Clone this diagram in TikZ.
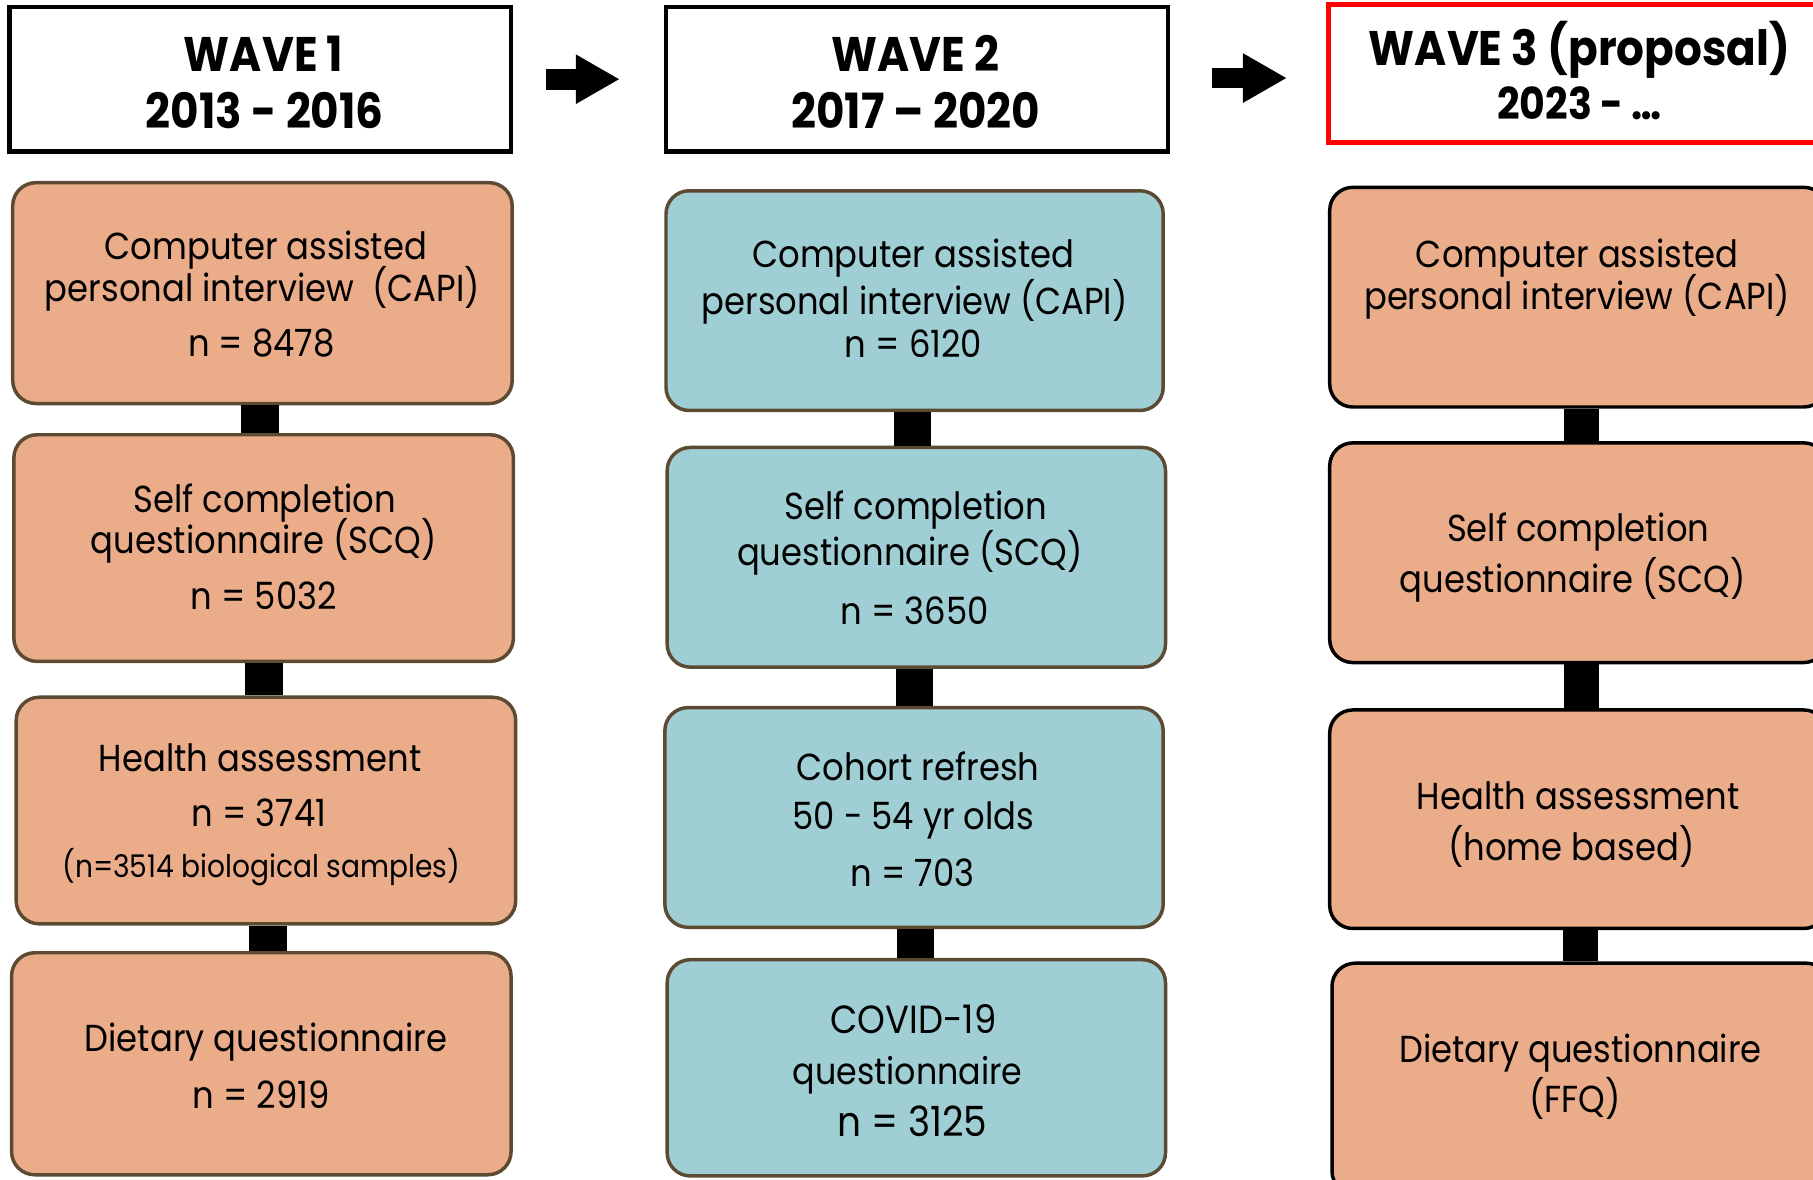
\documentclass[tikz,border=0pt]{standalone}
\usepackage{fontspec}
\setmainfont{Poppins}[FakeStretch=0.9]
\usetikzlibrary{arrows.meta}
\definecolor{orng}{HTML}{EBAC8A}
\definecolor{tealf}{HTML}{9FCFD4}
\definecolor{brn}{HTML}{5C4A32}
\definecolor{redb}{HTML}{FF0000}
\newcommand\bodyf{\fontsize{32.5}{39}\selectfont}
\newcommand\headf{\fontsize{42}{50}\bfseries\selectfont}
\begin{document}
\begin{tikzpicture}[x=1pt,y=-1pt,
  boxbase/.style={rectangle, rounded corners=20pt, line width=3pt, inner sep=0pt},
  obox/.style={boxbase, fill=orng, draw=brn},
  tbox/.style={boxbase, fill=tealf, draw=brn},
  pbox/.style={boxbase, fill=orng, draw=black},
  headbox/.style={rectangle, draw=black, fill=white, line width=4pt, minimum width=434pt, minimum height=125pt, inner sep=0pt},
  conn/.style={draw=black, line width=33pt},
  bigarrow/.style={draw=black, line width=18pt, -{Triangle[length=38pt, width=40pt]}},
  bt/.style={font=\bodyf, anchor=base, inner sep=0pt},
  ht/.style={font=\headf, anchor=base, inner sep=0pt}
]
\path[use as bounding box, clip] (0,0) rectangle (1568,1020);

% headers
\node[headbox] (h1) at (225,68.5) {};
\node[headbox] (h2) at (793,68.5) {};
\node[headbox, draw=redb, minimum height=119pt] (h3) at (1366,63.5) {};
\node[ht] (h1a) at (228,62) {WAVE\ 1};
\node[ht] (h1b) at (229,111) {2013 - 2016};
\node[ht] (h2a) at (792,62) {WAVE\ 2};
\node[ht] (h2b) at (792,111) {2017 – 2020};
\node[ht] (h3a) at (1366,57) {WAVE 3 (proposal)};
\node[ht, font=\fontsize{38}{44}\bfseries\selectfont] (h3b) at (1366,103) {2023 - …};
\draw[bigarrow] ([xshift=28pt]h1.east) -- ([xshift=-38pt]h2.west);
\draw[bigarrow] ([xshift=36pt,yshift=1pt]h2.east) -- ([xshift=-34pt,yshift=-4pt]h3.west);

% column 1
\node[obox, minimum width=432pt, minimum height=191pt] (a1) at (227,253.5) {};
\node[obox, minimum width=432pt, minimum height=196pt] (a2) at (228,474) {};
\node[obox, minimum width=432pt, minimum height=196pt] (a3) at (230,701) {};
\node[obox, minimum width=432pt, minimum height=192pt] (a4) at (226,920) {};
\draw[conn] ([xshift=-2pt]a1.south) -- ([xshift=-2pt]a1.south |- a2.north);
\draw[conn] (a2.south) -- (a2.south |- a3.north);
\draw[conn] ([xshift=2pt]a3.south) -- ([xshift=2pt]a3.south |- a4.north);
\node[bt] (a1l1) at (230,224) {Computer assisted};
\node[bt] (a1l2) at (227,261) {personal interview\ \ (CAPI)};
\node[bt] (a1l3) at (226,308) {n = 8478};
\node[bt] (a2l1) at (229,443) {Self completion};
\node[bt] (a2l2) at (228,479) {questionnaire (SCQ)};
\node[bt] (a2l3) at (228,527) {n = 5032};
\node[bt] (a3l1) at (225,667) {Health assessment};
\node[bt] (a3l2) at (224,715) {n = 3741};
\node[bt, font=\fontsize{27}{32}\selectfont] (a3l3) at (226,759) {(n=3514 biological samples)};
\node[bt] (a4l1) at (230,909) {Dietary questionnaire};
\node[bt] (a4l2) at (226,959) {n = 2919};

% column 2
\node[tbox, minimum width=430pt, minimum height=190pt] (b1) at (791,260) {};
\node[tbox, minimum width=431pt, minimum height=190pt] (b2) at (792.5,482) {};
\node[tbox, minimum width=431pt, minimum height=190pt] (b3) at (790.5,707) {};
\node[tbox, minimum width=431pt, minimum height=187pt] (b4) at (792.5,923.5) {};
\draw[conn, line width=32pt] ([xshift=-2pt]b1.south) -- ([xshift=-2pt]b1.south |- b2.north);
\draw[conn, line width=32pt] ([xshift=-2pt]b2.south) -- ([xshift=-2pt]b2.south |- b3.north);
\draw[conn, line width=32pt] ([xshift=1pt]b3.south) -- ([xshift=1pt]b3.south |- b4.north);
\node[bt] (b1l1) at (790,231) {Computer assisted};
\node[bt] (b1l2) at (791,272) {personal interview (CAPI)};
\node[bt] (b1l3) at (790,309) {n = 6120};
\node[bt] (b2l1) at (792,449) {Self completion};
\node[bt] (b2l2) at (787,489) {questionnaire (SCQ)};
\node[bt] (b2l3) at (791,540) {n = 3650};
\node[bt] (b3l1) at (794,675) {Cohort refresh};
\node[bt] (b3l2) at (790,717) {50 - 54 yr olds};
\node[bt] (b3l3) at (789,767) {n = 703};
\node[bt, font=\fontsize{34}{40}\selectfont] (b4l1) at (790,894) {COVID-19};
\node[bt, font=\fontsize{32}{38}\selectfont] (b4l2) at (785,938) {questionnaire};
\node[bt, font=\fontsize{36}{42}\selectfont] (b4l3) at (789,983) {n = 3125};

% column 3
\node[pbox, minimum width=430pt, minimum height=190pt] (c1) at (1365,257) {};
\node[pbox, minimum width=430pt, minimum height=190pt] (c2) at (1365,478) {};
\node[pbox, minimum width=430pt, minimum height=189pt] (c3) at (1365,708.5) {};
\node[pbox, minimum width=430pt, minimum height=200pt] (c4) at (1367,933) {};
\draw[conn, line width=30pt] ([xshift=3pt]c1.south) -- ([xshift=3pt]c1.south |- c2.north);
\draw[conn, line width=30pt] ([xshift=3pt]c2.south) -- ([xshift=3pt]c2.south |- c3.north);
\draw[conn, line width=30pt] ([xshift=2pt]c3.south) -- ([xshift=2pt]c3.south |- c4.north);
\node[bt] (c1l1) at (1364,231) {Computer assisted};
\node[bt] (c1l2) at (1364,268) {personal interview (CAPI)};
\node[bt] (c2l1) at (1365,468) {Self completion};
\node[bt] (c2l2) at (1360,512) {questionnaire (SCQ)};
\node[bt] (c3l1) at (1365,700) {Health assessment};
\node[bt] (c3l2) at (1359,744) {(home based)};
\node[bt] (c4l1) at (1367,919) {Dietary questionnaire};
\node[bt] (c4l2) at (1362,962) {(FFQ)};
\end{tikzpicture}
\end{document}
